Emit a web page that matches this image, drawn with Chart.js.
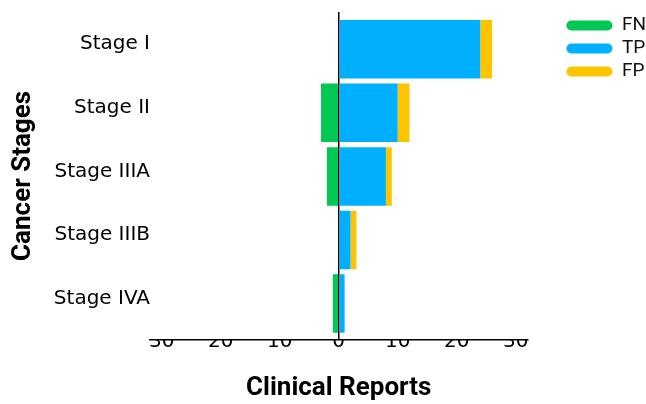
<!DOCTYPE html>
<html>
<head>
<meta charset="utf-8">
<script src="https://cdn.jsdelivr.net/npm/chart.js@4"></script>
<style>
  html, body { margin: 0; padding: 0; background: #fff; }
  #wrap { width: 646px; height: 404px; }
</style>
</head>
<body>
<div id="wrap"><canvas id="stagesChart"></canvas></div>
<script>
// données
const stages = ["Stage I", "Stage II", "Stage IIIA", "Stage IIIB", "Stage IVA"];
const fnValues = [0, -3, -2, 0, -1];
const tpValues = [24, 10, 8, 2, 1];
const fpValues = [2, 2, 1, 1, 0];
const xTicks = [-30, -20, -10, 0, 10, 20, 30];

Chart.defaults.color = "#000";

// axe des catégories en linéaire (index 0..4) pour caler les barres
const toPoints = (values) => values.map((v, i) => ({ x: v, y: i }));

const ctx = document.getElementById("stagesChart").getContext("2d");

new Chart(ctx, {
  type: "bar",
  data: {
    datasets: [
      { label: "FN", data: toPoints(fnValues), backgroundColor: "#00C853" },
      { label: "TP", data: toPoints(tpValues), backgroundColor: "#00B0FF" },
      { label: "FP", data: toPoints(fpValues), backgroundColor: "#FFC400" },
    ],
  },
  options: {
    indexAxis: "y",
    responsive: true,
    maintainAspectRatio: false,
    animation: false,
    layout: { padding: { top: 12, right: -10, bottom: 0, left: 0 } },
    datasets: {
      bar: { categoryPercentage: 1, barPercentage: 0.92 },
    },
    scales: {
      x: {
        stacked: true,
        min: -32,
        max: 32,
        afterBuildTicks: (axis) => {
          axis.ticks = xTicks.map((v) => ({ value: v }));
        },
        grid: {
          drawTicks: false,
          lineWidth: 1.5,
          color: (c) => (c.tick && c.tick.value === 0 ? "#000" : "rgba(0,0,0,0)"),
        },
        border: { display: true, color: "#000", width: 1.5 },
        ticks: {
          padding: -10,
          font: { family: "DejaVu Sans", size: 20 },
          callback: (v) => Math.abs(v),
        },
        title: {
          display: true,
          text: "Clinical Reports",
          font: { family: "Roboto", size: 26, weight: "bold" },
          padding: { top: 29, bottom: 0 },
        },
      },
      y: {
        type: "linear",
        stacked: true,
        reverse: true,
        offset: false,
        min: -0.585,
        max: 4.569,
        afterBuildTicks: (axis) => {
          axis.ticks = stages.map((s, i) => ({ value: i }));
        },
        afterFit: (scale) => {
          scale.width = 150;
        },
        grid: { display: false, drawTicks: false, offset: false },
        border: { display: false },
        ticks: {
          padding: 0,
          labelOffset: -5,
          font: { family: "DejaVu Sans", size: 20 },
          callback: (v) => stages[v],
        },
        title: {
          display: true,
          text: "Cancer Stages",
          font: { family: "Roboto", size: 26, weight: "bold" },
          padding: { top: 8, bottom: 0 },
        },
      },
      // espace vide entre le graphique et la légende
      spacer: {
        type: "linear",
        position: "right",
        display: true,
        afterFit: (scale) => {
          scale.width = 35;
        },
        grid: { display: false },
        border: { display: false },
        ticks: { display: false },
      },
    },
    plugins: {
      legend: {
        position: "right",
        align: "start",
        labels: {
          boxWidth: 46,
          boxHeight: 10,
          useBorderRadius: true,
          borderRadius: 5,
          padding: 4,
          color: "#111",
          font: { family: "Roboto", size: 19 },
        },
      },
      tooltip: { enabled: false },
    },
  },
});
</script>
</body>
</html>
